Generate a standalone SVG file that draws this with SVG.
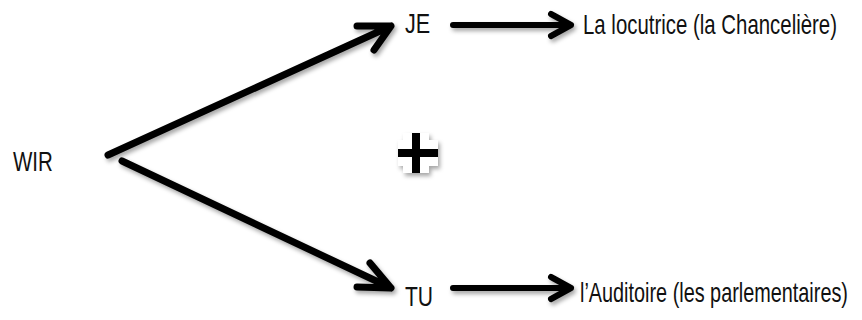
<svg xmlns="http://www.w3.org/2000/svg" width="862" height="320" viewBox="0 0 862 320">
<defs>
<style>
.t{font-family:"Liberation Sans",Arial,sans-serif;font-size:27px;fill:#111}
.ln{fill:none;stroke:#000;stroke-linecap:round;stroke-linejoin:round}
</style>
<filter id="sh" x="-20%" y="-20%" width="140%" height="140%">
<feDropShadow dx="2" dy="3" stdDeviation="2" flood-color="#000" flood-opacity="0.35"/>
</filter>
</defs>
<rect width="862" height="320" fill="#fff"/>
<g id="connectors" filter="url(#sh)">
<path class="ln" stroke-width="7" d="M108,155 L391,26 M357,26 L391,26 L374,50"/>
<path class="ln" stroke-width="7" d="M122,161 L391,288 M370,263 L391,288 L357,287"/>
<path class="ln" stroke-width="6" d="M453,25 L571,25 M551,14 L571,25 L551,36"/>
<path class="ln" stroke-width="6" d="M453,288 L571,288 M551,277 L571,288 L551,299"/>
</g>
<g id="plus">
<path d="M416,133 V173 M398,153 H438" stroke="#fff" stroke-width="26" stroke-linejoin="round" fill="none" filter="url(#sh)"/>
<path d="M416,133 V173 M398,153 H438" stroke="#000" stroke-width="8" fill="none"/>
</g>
<g id="wir"><text class="t" transform="translate(13,171) scale(0.76,1)">WIR</text></g>
<g id="je"><text class="t" transform="translate(405,33) scale(0.8,1)">JE</text></g>
<g id="tu"><text class="t" transform="translate(405,306) scale(0.78,1)">TU</text></g>
<g id="locutrice"><text class="t" transform="translate(583,34) scale(0.756,1)">La locutrice (la Chancelière)</text></g>
<g id="auditoire"><text class="t" transform="translate(580,302) scale(0.735,1)">l’Auditoire (les parlementaires)</text></g>
</svg>
